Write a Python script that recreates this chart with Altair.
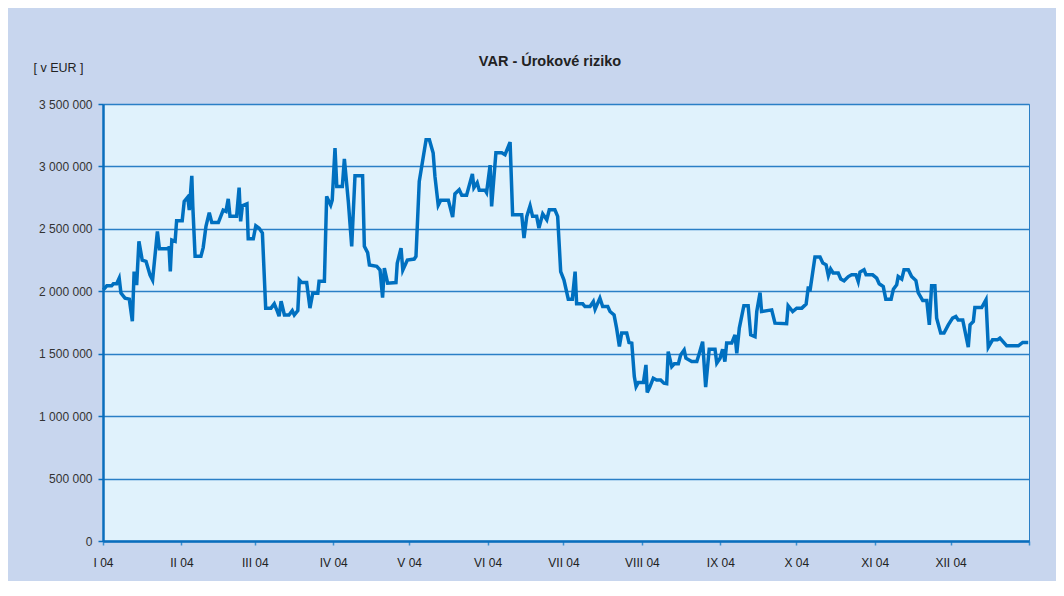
import json
import altair as alt
import pandas as pd

# day offset from 1 Jan 2004 and VAR in thousands of EUR
days = [0.1, 1.5, 3.4, 4.1, 5.4, 6.4, 7.1, 8.7, 10.4, 11.6, 12.3, 13.3, 14.2, 15.5, 17.0,
        18.6, 19.6, 21.5, 22.3, 25.2, 26.1, 26.6, 27.2, 28.5, 29.1, 31.3, 32.1, 33.5, 34.1,
        35.1, 35.5, 36.4, 38.7, 39.6, 40.7, 42.0, 43.0, 45.6, 47.5, 48.6, 49.5, 50.2, 52.8,
        53.8, 54.4, 55.1, 56.9, 57.4, 59.4, 60.4, 61.7, 63.0, 64.3, 66.4, 67.7, 68.7, 69.6,
        70.4, 71.7, 73.5, 74.8, 75.6, 77.0, 77.6, 78.5, 80.5, 81.8, 82.9, 84.9, 85.4, 87.5,
        88.4, 90.0, 90.6, 91.7, 92.4, 94.6, 95.4, 97.0, 98.3, 99.6, 102.6, 103.3, 104.6,
        105.3, 108.2, 109.5, 110.5, 111.2, 112.5, 115.8, 116.3, 117.8, 118.5, 120.3, 123.0,
        123.7, 125.0, 127.7, 129.0, 130.5, 131.2, 132.5, 133.5, 136.5, 138.2, 139.1, 140.8,
        141.8, 143.7, 146.0, 146.6, 147.9, 148.7, 151.0, 151.6, 153.0, 153.6, 155.3, 157.6,
        158.9, 160.9, 161.9, 165.5, 166.4, 167.5, 168.8, 169.8, 171.4, 172.3, 173.8, 175.4,
        176.4, 178.6, 179.7, 180.9, 182.2, 183.9, 185.5, 186.6, 187.2, 189.6, 190.5, 192.5,
        193.8, 194.5, 196.4, 197.5, 199.5, 200.4, 202.0, 203.0, 204.1, 205.0, 207.0, 207.9,
        209.0, 210.0, 210.7, 211.6, 213.6, 214.6, 215.1, 216.2, 217.5, 218.8, 220.4, 221.7,
        222.8, 223.4, 224.8, 225.8, 227.4, 228.3, 229.7, 230.4, 232.7, 234.7, 235.7, 237.0,
        238.2, 239.6, 241.9, 242.6, 243.9, 244.9, 245.8, 246.5, 248.5, 249.8, 250.5, 251.5,
        253.3, 255.0, 256.0, 257.7, 258.4, 259.7, 260.3, 264.3, 265.6, 270.2, 270.8, 272.6,
        274.2, 276.2, 277.9, 278.8, 279.4, 281.4, 283.4, 284.5, 285.8, 286.7, 287.6, 288.6,
        290.6, 291.6, 292.9, 294.6, 295.9, 297.6, 298.5, 299.2, 300.8, 301.6, 304.2, 305.8,
        306.8, 308.4, 309.4, 311.5, 312.4, 313.7, 314.3, 315.7, 316.6, 318.3, 319.6, 321.3,
        322.2, 324.0, 325.6, 326.6, 327.5, 328.8, 329.5, 331.1, 332.4, 334.1, 335.8, 337.1,
        338.0, 339.8, 342.0, 342.7, 344.0, 344.6, 347.3, 349.0, 349.9, 351.6, 353.5, 354.5,
        357.2, 361.8, 363.5, 365.7]
var_k = [2012, 2044, 2044, 2060, 2060, 2105, 1985, 1945, 1937, 1760, 2158, 2050, 2400, 2250, 2240,
         2130, 2090, 2480, 2340, 2340, 2350, 2160, 2410, 2400, 2565, 2565, 2720, 2755, 2650,
         2925, 2680, 2280, 2280, 2350, 2520, 2630, 2550, 2550, 2650, 2640, 2740, 2600, 2600,
         2830, 2560, 2685, 2700, 2420, 2420, 2525, 2506, 2466, 1865, 1865, 1900, 1850, 1800,
         1920, 1810, 1810, 1845, 1810, 1845, 2090, 2070, 2070, 1865, 1985, 1985, 2080, 2080,
         2760, 2690, 2730, 3147, 2840, 2840, 3060, 2710, 2360, 2925, 2925, 2360, 2310,
         2210, 2200, 2170, 1950, 2185, 2065, 2070, 2225, 2345, 2170, 2250, 2258,
         2280, 2880, 3214, 3214, 3107, 2920, 2690, 2730, 2730, 2594, 2780, 2813,
         2770, 2770, 2940, 2830, 2870, 2810, 2810, 2790, 3010, 2680, 3110, 3110,
         3094, 3195, 2613, 2613, 2426, 2600, 2685, 2600, 2600, 2506, 2620, 2573,
         2653, 2653, 2600, 2158, 2090, 1937, 1937, 2158, 1900, 1900, 1878, 1878,
         1918, 1857, 1945, 1878, 1878, 1838, 1811, 1705, 1558, 1665, 1665, 1590,
         1585, 1317, 1237, 1270, 1270, 1410, 1190, 1237, 1304, 1290, 1290, 1264,
         1260, 1517, 1397, 1419, 1419, 1490, 1530, 1464, 1437, 1437, 1504, 1597,
         1232, 1536, 1536, 1424, 1464, 1536, 1437, 1585, 1585, 1651, 1504, 1705,
         1884, 1884, 1651, 1637, 1838, 1990, 1838, 1851, 1745, 1740, 1884, 1838,
         1865, 1865, 1897, 2038, 1998, 2274, 2274, 2226, 2212, 2124, 2178, 2146,
         2146, 2098, 2084, 2118, 2132, 2132, 2078, 2154, 2172, 2132, 2132, 2105,
         2060, 2038, 1937, 1937, 2017, 2052, 2118, 2098, 2172, 2172, 2118, 2086,
         1990, 1926, 1926, 1731, 2044, 2044, 1785, 1665, 1665, 1731, 1785, 1798,
         1771, 1771, 1552, 1731, 1758, 1870, 1870, 1932, 1552, 1611, 1611, 1625,
         1563, 1563, 1590, 1590]

month_labels = ["I 04", "II 04", "III 04", "IV 04", "V 04", "VI 04", "VII 04", "VIII 04",
                "IX 04", "X 04", "XI 04", "XII 04", ""]
month_starts = [0, 31, 60, 91, 121, 152, 182, 213, 244, 274, 305, 335, 366]
y_ticks = [0, 500000, 1000000, 1500000, 2000000, 2500000, 3000000, 3500000]

df = pd.DataFrame({"day": days, "VAR": [v * 1000 for v in var_k]})

x_label_expr = f"{json.dumps(month_labels)}[indexof({json.dumps(month_starts)}, datum.value)]"
y_label_expr = "replace(replace(format(datum.value, ','), ',', ' '), ',', ' ')"

FONT = "Liberation Sans"

chart = alt.Chart(df).mark_line(
    color="#0070c0", strokeWidth=3.5
).encode(
    x=alt.X("day:Q",
            scale=alt.Scale(domain=[0, 366], nice=False, zero=False),
            axis=alt.Axis(values=month_starts, labelExpr=x_label_expr, grid=False, title=None,
                          domainColor="#0a6ebd", domainWidth=2.5,
                          tickColor="#3a8fd0", tickSize=4, tickWidth=1.5,
                          labelPadding=12, labelFontSize=12, labelColor="#222222",
                          labelFont=FONT, labelFlush=False, labelOverlap=False)),
    y=alt.Y("VAR:Q",
            scale=alt.Scale(domain=[0, 3500000], nice=False),
            axis=alt.Axis(values=y_ticks, labelExpr=y_label_expr,
                          title="[ v EUR ]", titleAngle=0, titleX=-70, titleY=-37,
                          titleAlign="left", titleBaseline="middle", titleFontWeight="normal",
                          titleFontSize=12.5, titleFont=FONT, titleColor="#222222",
                          gridColor="#2a7fc6", gridWidth=1.3,
                          domainColor="#0a6ebd", domainWidth=2.5,
                          tickColor="#0a6ebd", tickSize=5, tickWidth=1.5,
                          labelPadding=6, labelFontSize=12, labelColor="#333333",
                          labelFont=FONT, labelFlush=False)),
).properties(
    width=926,
    height=437,
    title=alt.TitleParams("VAR - Úrokové riziko", fontSize=14.5, fontWeight="bold", font=FONT,
                          color="#222222", anchor="middle", dx=-16, offset=0, dy=8),
    autosize=alt.AutoSizeParams(type="none"),
    padding={"left": 95, "top": 96, "right": 27, "bottom": 40},
    background="#c8d6ee",
).configure_view(fill="#e0f2fc", stroke="#2a7fc6", strokeWidth=1)

chart.save("out.html", embed_options={"renderer": "svg", "actions": False})
